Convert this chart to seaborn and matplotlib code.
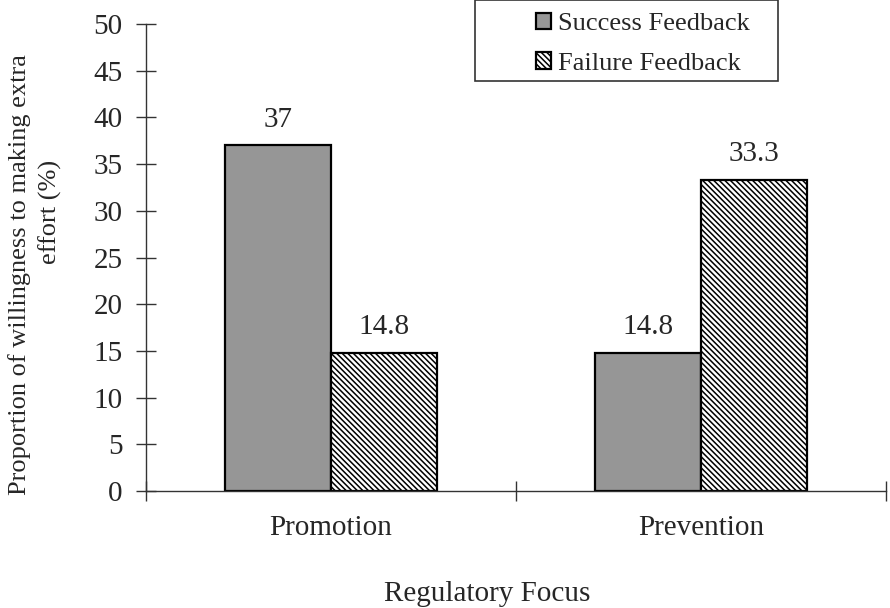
import matplotlib
matplotlib.use("Agg")
import matplotlib.pyplot as plt
from matplotlib.patches import Patch, Rectangle
import pandas as pd
import seaborn as sns

# Data
focus = ["Promotion", "Prevention"]
feedback = ["Success Feedback", "Failure Feedback"]
success_values = [37, 14.8]
failure_values = [14.8, 33.3]
y_ticks = [0, 5, 10, 15, 20, 25, 30, 35, 40, 45, 50]

df = pd.DataFrame({
    "focus": focus * 2,
    "feedback": [feedback[0]] * len(focus) + [feedback[1]] * len(focus),
    "value": success_values + failure_values,
})

sns.set_theme(style="white")
plt.rcParams["font.family"] = ["Liberation Serif", "DejaVu Serif"]
plt.rcParams["hatch.linewidth"] = 1.1

GRAY = "#969696"
HATCH = "\\" * 6

fig = plt.figure(figsize=(8.9, 6.08), dpi=100)
ax = fig.add_axes([146 / 890, 1 - 491 / 608, (886 - 146) / 890, (491 - 24) / 608])

sns.barplot(
    data=df, x="focus", y="value", hue="feedback",
    order=focus, hue_order=feedback,
    palette=[GRAY, "white"], saturation=1, width=0.573,
    edgecolor="black", linewidth=1.6, legend=False, ax=ax,
)

# Dense diagonal hatching on the failure-feedback bars
for bar in ax.containers[1]:
    bar.set_hatch(HATCH)

# Value labels above bars
for cont in ax.containers:
    ax.bar_label(cont, fmt="%g", padding=9, fontsize=21)

# Axes
ax.set_ylim(0, 50)
ax.set_xlim(-0.5, 1.5)
ax.set_yticks(y_ticks)
ax.tick_params(axis="y", direction="inout", length=13.7, width=1.0,
               color="#333333", labelsize=21, pad=10, left=True)
ax.set_xticks([0, 1])
ax.set_xticklabels(focus)
ax.set_xticks([-0.5, 0.5, 1.5], minor=True)
ax.tick_params(axis="x", which="major", length=0, labelsize=21, pad=17)
ax.tick_params(axis="x", which="minor", direction="inout", length=13.7,
               width=1.0, color="#333333", bottom=True)
ax.set_xlabel("")
ax.set_ylabel("")
for side in ("top", "right"):
    ax.spines[side].set_visible(False)
for side in ("left", "bottom"):
    ax.spines[side].set_color("#333333")
    ax.spines[side].set_linewidth(1.0)

# Axis titles
fig.text(487 / 890, 1 - 601 / 608, "Regulatory Focus", ha="center",
         va="baseline", fontsize=21)
fig.text(20 / 890, 1 - 275 / 608, "Proportion of willingness to making extra",
         rotation=90, ha="center", va="center", fontsize=19)
fig.text(50 / 890, 1 - 212 / 608, "effort (%)",
         rotation=90, ha="center", va="center", fontsize=19)

# Legend with its own frame
frame = Rectangle((475 / 890, 1 - 81 / 608), (778 - 475) / 890, 81 / 608,
                  transform=fig.transFigure, facecolor="white",
                  edgecolor="#333333", linewidth=1.2, zorder=5)
fig.patches.append(frame)
handles = [
    Patch(facecolor=GRAY, edgecolor="black", linewidth=1.6, label=feedback[0]),
    Patch(facecolor="white", edgecolor="black", linewidth=1.6,
          hatch=HATCH, label=feedback[1]),
]
leg = fig.legend(handles=handles, loc="upper left",
                 bbox_to_anchor=(536 / 890, 1 - 13 / 608),
                 frameon=False, fontsize=19, borderpad=0, borderaxespad=0,
                 handlelength=0.57, handleheight=0.57, handletextpad=0.25,
                 labelspacing=0.64)
leg.set_zorder(6)

fig.savefig("out.png", dpi=100)
